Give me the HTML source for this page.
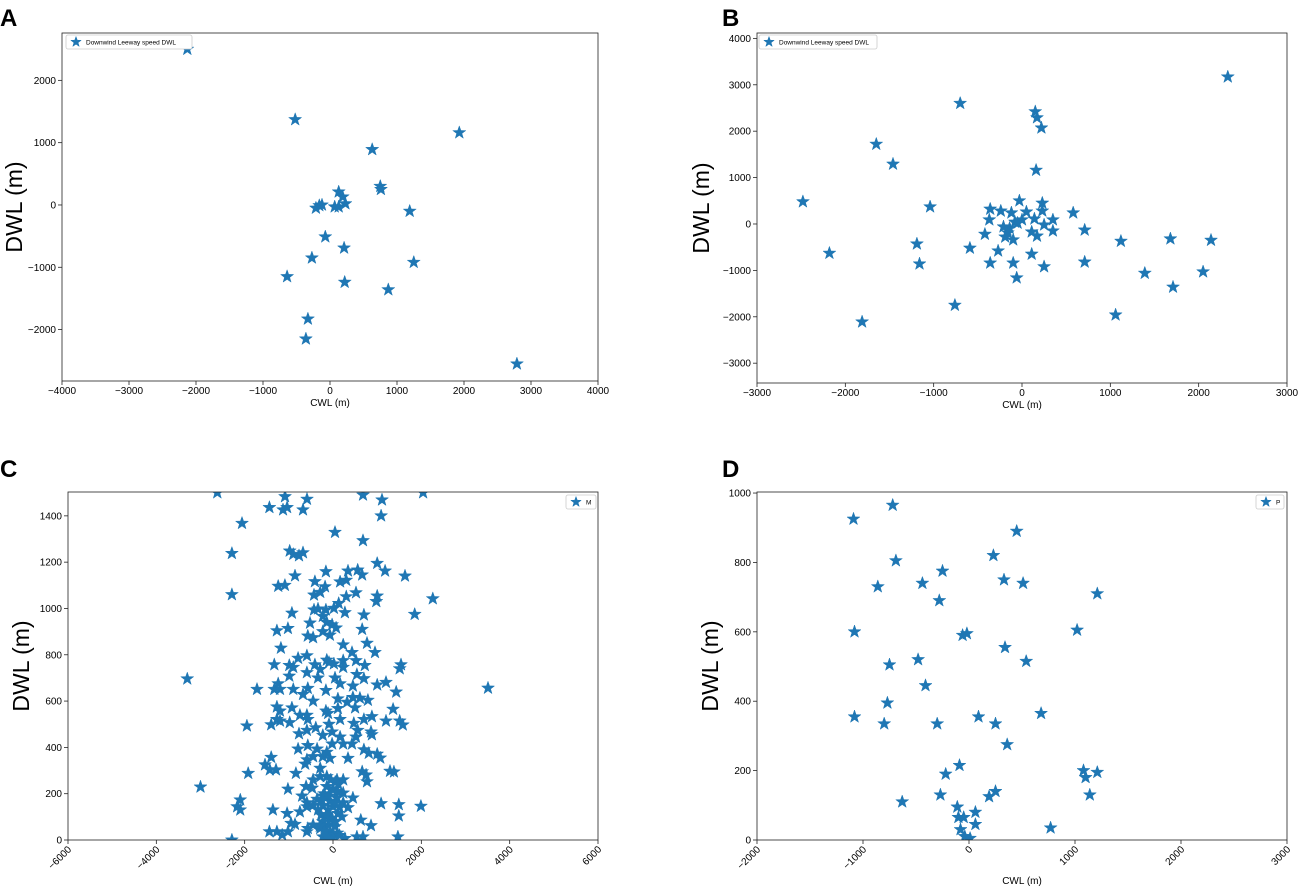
<!DOCTYPE html>
<html><head><meta charset="utf-8"><style>
body{margin:0;background:#fff;font-family:"Liberation Sans",sans-serif}
svg text{font-family:"Liberation Sans",sans-serif}
</style></head><body>
<svg id="fig" width="1299" height="886" xmlns="http://www.w3.org/2000/svg">
<text x="0" y="26" font-size="24" font-weight="bold">A</text>
<text x="722" y="26" font-size="24" font-weight="bold">B</text>
<text x="0" y="477" font-size="24" font-weight="bold">C</text>
<text x="722" y="477" font-size="24" font-weight="bold">D</text>
</svg>
<script>
const aX=[-2130,-520,1930,630,130,190,230,-160,-120,-210,70,130,750,760,1190,-70,210,-270,-640,220,1250,870,-330,-360,2790];
const aY=[2500,1370,1160,890,210,130,20,-10,0,-50,-30,-30,300,250,-100,-510,-690,-850,-1150,-1240,-920,-1360,-1830,-2150,-2550];
const bX=[2330,-700,150,170,220,-1650,-1460,160,-2480,-1040,-2180,-1190,-1160,-760,-1810,580,710,710,1120,1680,2140,1390,1710,2050,1060,-30,230,230,-360,-240,-120,50,140,350,-370,250,350,-420,-210,-80,0,-50,-140,-160,-190,-100,110,170,-270,-590,110,-360,-100,250,-60];
const bY=[3170,2600,2420,2290,2070,1720,1290,1160,480,370,-630,-430,-860,-1750,-2110,240,-130,-820,-370,-320,-350,-1060,-1360,-1030,-1960,500,450,280,320,280,240,260,110,90,90,-20,-150,-220,-60,40,90,20,-90,-190,-280,-340,-170,-260,-580,-520,-650,-840,-840,-920,-1160];
const cX=[-2620,-1086,-588,-1440,-1131,-1040,-680,-2060,680,1110,2040,1090,45,680,-2290,-980,-900,-770,-680,1000,-160,340,560,660,1180,1630,-860,-410,160,300,-1240,-1090,-2290,-430,-290,-180,300,520,1000,980,2260,-430,-340,-160,20,130,270,-930,700,1850,-520,-230,-140,-20,70,-1270,-1020,-230,-70,-570,-450,660,230,770,-1180,950,430,-790,-590,-140,-90,-1330,-990,-900,-410,20,230,230,520,720,1540,1510,-590,-290,-340,-990,45,540,700,-3300,1000,1200,3510,-1720,-1240,-1330,-1200,-900,-570,-160,160,450,1430,-680,-450,110,320,450,610,790,-1270,-1200,-930,-590,-750,-160,-110,110,500,1360,-1270,-1200,-980,-1400,-1950,-570,-390,-90,160,470,700,880,1200,1510,1580,-770,-590,-230,-20,160,560,520,860,880,-790,-570,-360,-140,-20,230,430,700,810,1000,1070,-590,-450,-230,-70,340,-1400,-1540,-1430,-1290,-1920,-840,-630,-290,660,750,770,1290,1380,-3000,-450,-290,-140,90,230,-610,-470,-140,0,450,230,-1020,-2100,-2170,-2100,-700,-590,-360,-230,-70,90,230,340,1090,1490,1990,1490,-1360,-1040,-750,-590,-450,-340,-230,-110,0,110,-270,-140,-20,-950,-860,-570,-450,-230,-110,45,630,860,-1440,-1270,-1150,-1020,-590,-290,-140,0,-230,-70,-140,270,540,680,1470,-2290,-200,-100,0,100,-250,50,150,-150,-50,60,-200,100,0,-100,150,-300,200,-50,50,120];
const cY=[1500,1483,1472,1436,1426,1436,1426,1368,1490,1469,1500,1400,1329,1293,1238,1248,1234,1228,1241,1195,1159,1162,1166,1145,1162,1140,1141,1116,1115,1122,1096,1100,1060,1058,1070,1094,1051,1068,1054,1030,1042,994,998,994,1001,1022,982,980,972,975,937,966,940,930,916,904,914,900,885,881,874,910,843,850,829,810,810,785,796,777,767,757,754,746,757,761,775,746,775,754,757,740,723,737,700,708,700,715,697,696,670,681,656,651,675,651,651,651,655,646,675,665,639,629,600,610,595,616,613,604,575,557,571,539,539,557,547,568,571,565,521,514,507,498,493,521,485,500,521,504,521,533,514,514,497,459,474,452,467,445,474,445,467,455,393,408,393,379,415,415,415,390,375,371,354,347,360,360,353,353,357,325,303,303,288,288,328,310,295,281,252,297,294,229,260,274,274,260,260,231,224,231,217,182,203,220,173,144,130,190,161,176,190,168,182,161,140,157,153,146,104,130,115,122,144,150,130,150,130,144,115,108,101,94,72,68,50,65,79,65,58,86,62,36,36,22,36,36,50,36,29,14,7,22,7,14,14,14,0,200,190,220,210,170,160,140,110,90,80,40,30,10,5,20,60,100,260,250,240];
const dX=[-1090,-720,-690,-860,-440,-250,-280,450,230,330,510,1210,-1080,-60,-20,340,1020,-750,-480,540,-770,-1080,-800,-410,-300,90,250,680,360,-220,-90,-630,-270,1080,1100,1210,1140,190,250,770,-110,-100,-50,60,60,-80,-40,10];
const dY=[925,965,805,730,740,775,690,890,820,750,740,710,600,590,595,555,605,505,520,515,395,355,335,445,335,355,335,365,275,190,215,110,130,200,180,195,130,125,140,35,95,65,65,45,80,30,10,5];
const NS='http://www.w3.org/2000/svg';
const svg=document.getElementById('fig');
function mk(t,a,p){const e=document.createElementNS(NS,t);for(const k in a)e.setAttribute(k,a[k]);(p||svg).appendChild(e);return e;}
function star(cx,cy,r,p){let d='';for(let i=0;i<10;i++){const rr=i%2?r*0.4:r;const an=-Math.PI/2+i*Math.PI/5;d+=(i?'L':'M')+(cx+rr*Math.cos(an)).toFixed(1)+' '+(cy+rr*Math.sin(an)).toFixed(1);}return mk('path',{d:d+'Z',fill:'#1f77b4',stroke:'#1f77b4','stroke-width':0.5},p);}
function panel(o){
 const g=mk('g',{});
 
 
 const sx=v=>o.x0+(v-o.xmin)/(o.xmax-o.xmin)*(o.x1-o.x0);
 const sy=v=>o.y1-(v-o.ymin)/(o.ymax-o.ymin)*(o.y1-o.y0);
 const cid='clip'+o.name;
 const cp=mk('clipPath',{id:cid},g);mk('rect',{x:o.x0,y:o.y0,width:o.x1-o.x0,height:o.y1-o.y0},cp);
 const pts=mk('g',{'clip-path':'url(#'+cid+')'},g);
 
 
 for(let i=0;i<o.xs.length;i++){const s=star(sx(o.xs[i]),sy(o.ys[i]),6.8,pts);
  
  }
 const fr=mk('rect',{x:o.x0,y:o.y0,width:o.x1-o.x0,height:o.y1-o.y0,fill:'none',stroke:'#222','stroke-width':0.8},g);
 
 
 o.xt.forEach(v=>{const x=sx(v);mk('line',{x1:x,x2:x,y1:o.y1,y2:o.y1+4,stroke:'#222','stroke-width':0.8},g);
  let t;
  if(o.rot){t=mk('text',{x:x+4,y:o.y1+10,'font-size':10,'text-anchor':'end',transform:'rotate(-45 '+(x+4)+' '+(o.y1+10)+')'},g);}
  else t=mk('text',{x:x,y:o.y1+13,'font-size':10,'text-anchor':'middle'},g);
  t.textContent=v<0?'\u2212'+(-v):v;
  
  });
 o.yt.forEach(v=>{const y=sy(v);mk('line',{x1:o.x0-4,x2:o.x0,y1:y,y2:y,stroke:'#222','stroke-width':0.8},g);
  const t=mk('text',{x:o.x0-6,y:y+3.5,'font-size':10,'text-anchor':'end'},g);
  t.textContent=v<0?'\u2212'+(-v):v;
  
  });
 const xl=mk('text',{x:(o.x0+o.x1)/2,y:o.xly,'font-size':10,'text-anchor':'middle'},g);xl.textContent='CWL (m)';
 
 
 const yc=(o.y0+o.y1)/2;
 const yl=mk('text',{x:o.ylx,y:yc,'font-size':23,'text-anchor':'middle',transform:'rotate(-90 '+o.ylx+' '+yc+')'},g);yl.textContent='DWL (m)';
 
 
 const lg=mk('g',{},g);
 
 
 mk('rect',{x:o.lg[0],y:o.lg[1],width:o.lg[2],height:14,fill:'#fff',stroke:'#ccc','stroke-width':0.8,rx:2},lg);
 star(o.lg[0]+10,o.lg[1]+7,5.5,lg);
 const lt=mk('text',{x:o.lg[0]+20,y:o.lg[1]+9.5,'font-size':6.5},lg);lt.textContent=o.label;
 
 
}
panel({name:'panel-a',x0:62,x1:598,y0:33,y1:381,xmin:-4000,xmax:4000,ymin:-2825,ymax:2760,xs:aX,ys:aY,xt:[-4000,-3000,-2000,-1000,0,1000,2000,3000,4000],yt:[-2000,-1000,0,1000,2000],xly:406,ylx:22,lg:[66,35,126],label:'Downwind Leeway speed DWL'});
panel({name:'panel-b',x0:757,x1:1287,y0:33,y1:383,xmin:-3000,xmax:3000,ymin:-3427,ymax:4116,xs:bX,ys:bY,xt:[-3000,-2000,-1000,0,1000,2000,3000],yt:[-3000,-2000,-1000,0,1000,2000,3000,4000],xly:408,ylx:709,lg:[759,35,118],label:'Downwind Leeway speed DWL'});
panel({name:'panel-c',x0:68,x1:598,y0:492,y1:840,xmin:-6000,xmax:6000,ymin:0,ymax:1503,xs:cX,ys:cY,xt:[-6000,-4000,-2000,0,2000,4000,6000],yt:[0,200,400,600,800,1000,1200,1400],xly:884,ylx:29,lg:[566,495,30],label:'M',rot:true});
panel({name:'panel-d',x0:757,x1:1287,y0:492,y1:840,xmin:-2000,xmax:3000,ymin:0,ymax:1003,xs:dX,ys:dY,xt:[-2000,-1000,0,1000,2000,3000],yt:[0,200,400,600,800,1000],xly:884,ylx:718,lg:[1256,495,28],label:'P',rot:true});
</script>
</body></html>
